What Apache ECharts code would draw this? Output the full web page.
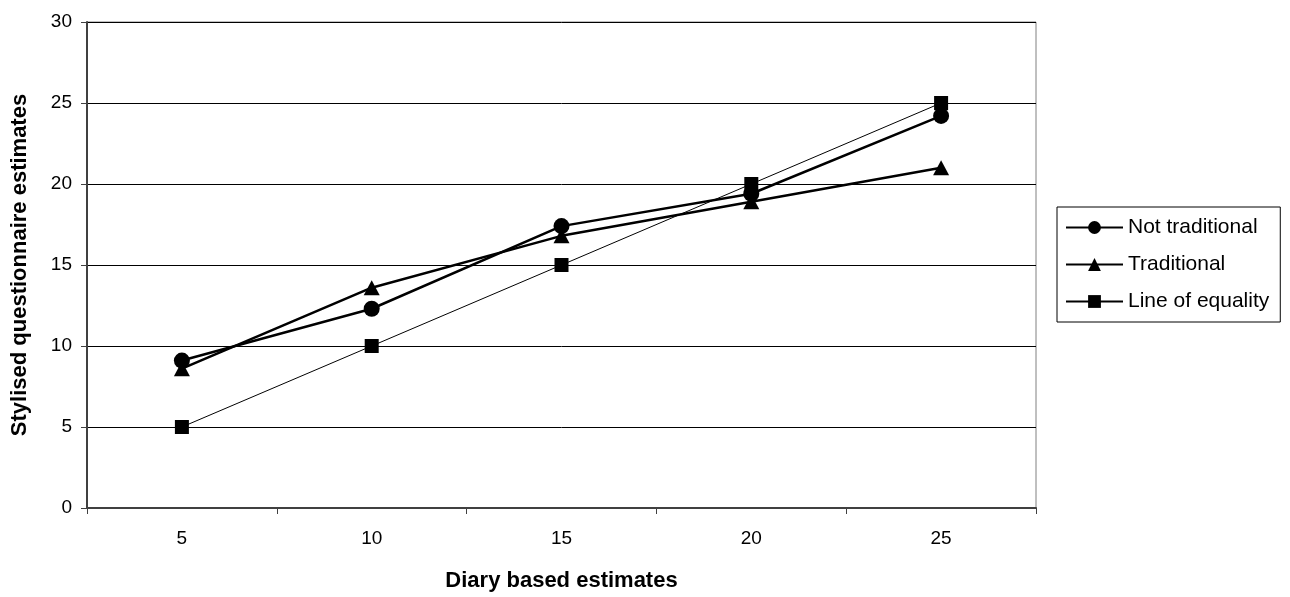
<!DOCTYPE html>
<html>
<head>
<meta charset="utf-8">
<script src="https://cdn.jsdelivr.net/npm/echarts@6/dist/echarts.min.js"></script>
<style>
html,body{margin:0;padding:0;background:#fff;}
#chart{width:1290px;height:597px;}
</style>
</head>
<body>
<div id="chart"></div>
<script>
const categories = ['5', '10', '15', '20', '25'];
const notTraditional = [9.1, 12.3, 17.4, 19.4, 24.2];
const traditional = [8.6, 13.6, 16.8, 18.9, 21.0];
const lineOfEquality = [5, 10, 15, 20, 25];
const seriesNames = ['Not traditional', 'Traditional', 'Line of equality'];
const xTitle = 'Diary based estimates';
const yTitle = 'Stylised questionnaire estimates';

const font = "'Liberation Sans', Arial, sans-serif";
const chart = echarts.init(document.getElementById('chart'), null, {renderer: 'canvas'});
chart.setOption({
  backgroundColor: '#ffffff',
  animation: false,
  textStyle: {fontFamily: font, color: '#000'},
  grid: {left: 87, right: 254, top: 22, bottom: 89, show: true, borderColor: '#808080', borderWidth: 1, backgroundColor: 'transparent'},
  legend: {
    orient: 'vertical',
    left: 1057, top: 207,
    padding: [10, 11, 10, 8],
    itemGap: 16,
    itemWidth: 57, itemHeight: 16,
    backgroundColor: '#fff',
    borderColor: '#000', borderWidth: 1, borderRadius: 0,
    textStyle: {fontFamily: font, fontSize: 21, color: '#000'},
    data: seriesNames
  },
  xAxis: {
    type: 'category',
    data: categories,
    boundaryGap: true,
    name: xTitle,
    nameLocation: 'middle',
    nameGap: 62,
    nameTextStyle: {fontFamily: font, fontSize: 22, fontWeight: 'bold', color: '#000'},
    axisLine: {show: true, lineStyle: {color: '#404040', width: 2}},
    axisTick: {show: true, inside: false, length: 6, alignWithLabel: false, lineStyle: {color: '#404040'}},
    axisLabel: {fontFamily: font, fontSize: 19, color: '#000', margin: 21},
    splitLine: {show: false}
  },
  yAxis: {
    type: 'value',
    min: 0, max: 30, interval: 5,
    name: yTitle,
    nameLocation: 'middle',
    nameGap: 56,
    nameRotate: 90,
    nameTextStyle: {fontFamily: font, fontSize: 22, fontWeight: 'bold', color: '#000'},
    axisLine: {show: true, lineStyle: {color: '#404040', width: 2}},
    axisTick: {show: true, inside: false, length: 6, lineStyle: {color: '#404040'}},
    axisLabel: {fontFamily: font, fontSize: 19, color: '#000', margin: 15},
    splitLine: {show: true, lineStyle: {color: '#000', width: 1}}
  },
  series: [
    {
      name: seriesNames[0], type: 'line', data: notTraditional,
      symbol: 'circle', symbolSize: 16,
      lineStyle: {color: '#000', width: 2.5},
      itemStyle: {color: '#000'},
      z: 3
    },
    {
      name: seriesNames[1], type: 'line', data: traditional,
      symbol: 'triangle', symbolSize: [16, 15],
      lineStyle: {color: '#000', width: 2.5},
      itemStyle: {color: '#000'},
      z: 3
    },
    {
      name: seriesNames[2], type: 'line', data: lineOfEquality,
      symbol: 'rect', symbolSize: 14,
      lineStyle: {color: '#000', width: 1},
      itemStyle: {color: '#000'},
      z: 2
    }
  ]
});
</script>
</body>
</html>
